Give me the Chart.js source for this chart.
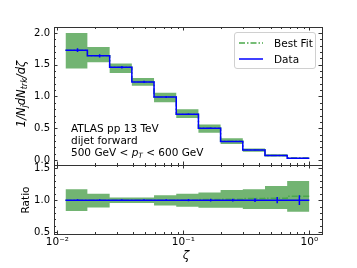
<!DOCTYPE html>
<html>
<head>
<meta charset="utf-8">
<script src="https://cdn.jsdelivr.net/npm/chart.js@4.4.1/dist/chart.umd.min.js"></script>
<style>
  body { margin: 0; background: #fff; }
  #wrap { position: relative; width: 357px; height: 268px; overflow: hidden; font-family: 'DejaVu Sans', sans-serif; color: #000; }
  canvas { position: absolute; left: 0; }
  #top-canvas { top: 0; }
  #ratio-canvas { top: 150px; }
  .txt { position: absolute; white-space: nowrap; line-height: 1; }
  .ann { left: 71px; font-size: 10.5px; }
  #ytitle { left: 23px; top: 94px; font-size: 11.5px; font-style: italic; transform: translate(-50%, -50%) rotate(-90deg); }
  #rtitle { left: 25px; top: 200px; font-size: 10.5px; transform: translate(-50%, -50%) rotate(-90deg); }
  #xtitle { left: 186px; top: 255px; font-size: 12px; font-style: italic; transform: translate(-50%, -50%); }
  sub { font-size: 70%; vertical-align: -0.25em; }
  #legend { position: absolute; left: 234px; top: 32px; width: 80px; height: 35px; border: 1px solid #d0d0d0; border-radius: 3px; background: rgba(255,255,255,0.8); }
  #legend .row { position: absolute; left: 3px; height: 14px; font-size: 10.5px; }
  #legend svg { position: absolute; left: 0; top: 2px; }
  #legend span { position: absolute; left: 36px; top: 1px; white-space: nowrap; }
</style>
</head>
<body>
<div id="wrap">
  <canvas id="top-canvas" width="357" height="180"></canvas>
  <canvas id="ratio-canvas" width="357" height="118"></canvas>
  <div class="txt" id="ytitle">1/N<sub>j</sub>dN<sub>trk</sub>/dζ</div>
  <div class="txt" id="rtitle">Ratio</div>
  <div class="txt" id="xtitle">ζ</div>
  <div class="txt ann" style="top:123px">ATLAS pp 13 TeV</div>
  <div class="txt ann" style="top:135px">dijet forward</div>
  <div class="txt ann" style="top:147px">500 GeV &lt; <i>p</i><sub><i>T</i></sub> &lt; 600 GeV</div>
  <div id="legend">
    <div class="row" style="top:3px">
      <svg width="26" height="10"><line x1="1" y1="5" x2="25" y2="5" stroke="#4aa84a" stroke-width="1.5" stroke-dasharray="6,2,1.5,2"/></svg>
      <span>Best Fit</span>
    </div>
    <div class="row" style="top:19px">
      <svg width="26" height="10"><line x1="1" y1="5" x2="25" y2="5" stroke="#0000ff" stroke-width="1.5"/></svg>
      <span>Data</span>
    </div>
  </div>
</div>
<script>
// bin edges in zeta
const edges = [0.0116, 0.0173, 0.026, 0.039, 0.0585, 0.0878, 0.1317, 0.1975, 0.2963, 0.4444, 0.6667, 1.0];

// top panel: 1/Nj dNtrk/dzeta
const dataVals = [1.73, 1.64, 1.46, 1.23, 0.99, 0.72, 0.50, 0.29, 0.157, 0.068, 0.027];
const dataErr  = [0.03, 0.025, 0.02, 0.018, 0.015, 0.012, 0.01, 0.006, 0.005, 0.0035, 0.002];
const fitVals  = [1.73, 1.64, 1.46, 1.23, 0.99, 0.72, 0.505, 0.294, 0.161, 0.070, 0.0286];
const bandHi   = [2.00, 1.78, 1.52, 1.29, 1.06, 0.80, 0.56, 0.34, 0.18, 0.088, 0.035];
const bandLo   = [1.44, 1.54, 1.37, 1.17, 0.91, 0.66, 0.43, 0.25, 0.13, 0.055, 0.022];

// bottom panel: ratio
const ratioData = [1, 1, 1, 1, 1, 1, 1, 1, 1, 1, 1];
const ratioErr  = [0.015, 0.015, 0.014, 0.015, 0.015, 0.017, 0.02, 0.02, 0.03, 0.05, 0.075];
const ratioFit  = [1.0, 1.0, 1.0, 1.0, 1.0, 1.0, 1.01, 1.015, 1.025, 1.03, 1.06];
const ratioHi   = [1.17, 1.10, 1.04, 1.04, 1.075, 1.10, 1.12, 1.16, 1.17, 1.22, 1.30];
const ratioLo   = [0.83, 0.885, 0.955, 0.955, 0.915, 0.895, 0.88, 0.88, 0.86, 0.86, 0.82];

const xTickLabels = { 0.01: '10\u207B\u00B2', 0.1: '10\u207B\u00B9', 1: '10\u2070' };

const xMin = 0.0094, xMax = 1.26;
const bandColor = 'rgba(20,130,20,0.6)';
const fitColor = '#4aa84a';

Chart.defaults.font.family = "'DejaVu Sans', sans-serif";
Chart.defaults.font.size = 10;
Chart.defaults.color = '#000';

function steps(vals) {
    const pts = vals.map((v, i) => ({ x: edges[i], y: v }));
    pts.push({ x: edges[edges.length - 1], y: vals[vals.length - 1] });
    return pts;
}

function errBars(vals, errs) {
    const pts = [];
    vals.forEach((v, i) => {
        const c = (edges[i] + edges[i + 1]) / 2;
        pts.push({ x: c, y: v - errs[i] }, { x: c, y: v + errs[i] }, { x: c, y: null });
    });
    return pts;
}

function makeDatasets(vals, errs, fit, hi, lo) {
    return [
        { data: errBars(vals, errs), borderColor: '#0000ff', borderWidth: 1.5, pointRadius: 0, order: 0 },
        { data: steps(vals), stepped: 'before', borderColor: '#0000ff', borderWidth: 1.5, pointRadius: 0, order: 1 },
        { data: steps(fit), stepped: 'before', borderColor: fitColor, borderWidth: 1.5, borderDash: [6, 2, 1.5, 2], pointRadius: 0, order: 2 },
        { data: steps(hi), stepped: 'before', borderWidth: 0, pointRadius: 0, fill: '+1', backgroundColor: bandColor, order: 3 },
        { data: steps(lo), stepped: 'before', borderWidth: 0, pointRadius: 0, order: 4 }
    ];
}

// matplotlib style frame with inward ticks on all four sides
const frameTicks = {
    id: 'frameTicks',
    afterDatasetsDraw(chart, args, opts) {
        const { ctx, chartArea: a, scales } = chart;
        const px = v => Math.round(v) + 0.5;
        ctx.save();
        ctx.strokeStyle = '#333';
        ctx.lineWidth = 1;
        ctx.strokeRect(px(a.left), px(a.top), Math.round(a.right) - Math.round(a.left), Math.round(a.bottom) - Math.round(a.top));
        ctx.beginPath();
        opts.xTicks.forEach(t => {
            if (t < xMin || t > xMax) return;
            const len = opts.xMajor.includes(t) ? 3.5 : 2;
            const x = px(scales.x.getPixelForValue(t));
            ctx.moveTo(x, a.bottom); ctx.lineTo(x, a.bottom - len);
            ctx.moveTo(x, a.top); ctx.lineTo(x, a.top + len);
        });
        opts.yTicks.forEach(t => {
            const major = Math.abs(t / 0.5 - Math.round(t / 0.5)) < 1e-6;
            const len = major ? 3.5 : 2;
            const y = px(scales.y.getPixelForValue(t));
            ctx.moveTo(a.left, y); ctx.lineTo(a.left + len, y);
            ctx.moveTo(a.right, y); ctx.lineTo(a.right - len, y);
        });
        ctx.stroke();
        ctx.restore();
    }
};

const xTicks = [0.01, 0.02, 0.03, 0.04, 0.05, 0.06, 0.07, 0.08, 0.09, 0.1, 0.2, 0.3, 0.4, 0.5, 0.6, 0.7, 0.8, 0.9, 1];
const xMajor = [0.01, 0.1, 1];
const topYTicks = [0, 0.1, 0.2, 0.3, 0.4, 0.5, 0.6, 0.7, 0.8, 0.9, 1.0, 1.1, 1.2, 1.3, 1.4, 1.5, 1.6, 1.7, 1.8, 1.9, 2.0];
const ratioYTicks = [0.5, 0.6, 0.7, 0.8, 0.9, 1.0, 1.1, 1.2, 1.3, 1.4, 1.5];

function yScale(min, max, labels) {
    return {
        min: min, max: max,
        afterFit: s => { s.width = 54; },
        afterBuildTicks: s => { s.ticks = labels.map(v => ({ value: v })); },
        ticks: { padding: 4, callback: v => v.toFixed(1), font: { size: 10 } },
        grid: { display: false, drawTicks: false },
        border: { display: false }
    };
}

const topChart = new Chart(document.getElementById('top-canvas'), {
    type: 'line',
    data: { datasets: makeDatasets(dataVals, dataErr, fitVals, bandHi, bandLo) },
    options: {
        responsive: false,
        animation: false,
        devicePixelRatio: 1,
        layout: { padding: { top: 27, right: 35, bottom: 15, left: 0 } },
        plugins: { legend: { display: false }, tooltip: { enabled: false }, frameTicks: { xTicks: xTicks, xMajor: xMajor, yTicks: topYTicks } },
        scales: {
            x: { type: 'logarithmic', min: xMin, max: xMax, display: false },
            y: yScale(-0.08, 2.095, [0, 0.5, 1.0, 1.5, 2.0])
        }
    },
    plugins: [frameTicks]
});

const ratioChart = new Chart(document.getElementById('ratio-canvas'), {
    type: 'line',
    data: { datasets: makeDatasets(ratioData, ratioErr, ratioFit, ratioHi, ratioLo) },
    options: {
        responsive: false,
        animation: false,
        devicePixelRatio: 1,
        layout: { padding: { top: 15, right: 35, bottom: 0, left: 0 } },
        plugins: { legend: { display: false }, tooltip: { enabled: false }, frameTicks: { xTicks: xTicks, xMajor: xMajor, yTicks: ratioYTicks } },
        scales: {
            x: {
                type: 'logarithmic', min: xMin, max: xMax,
                afterFit: s => { s.height = 34; },
                afterBuildTicks: s => { s.ticks = xMajor.map(v => ({ value: v })); },
                ticks: { padding: 2, autoSkip: false, maxRotation: 0, callback: v => xTickLabels[v] || '', font: { size: 10.5 } },
                grid: { display: false, drawTicks: false },
                border: { display: false }
            },
            y: yScale(0.47, 1.55, [0.5, 1.0, 1.5])
        }
    },
    plugins: [frameTicks]
});
</script>
</body>
</html>
